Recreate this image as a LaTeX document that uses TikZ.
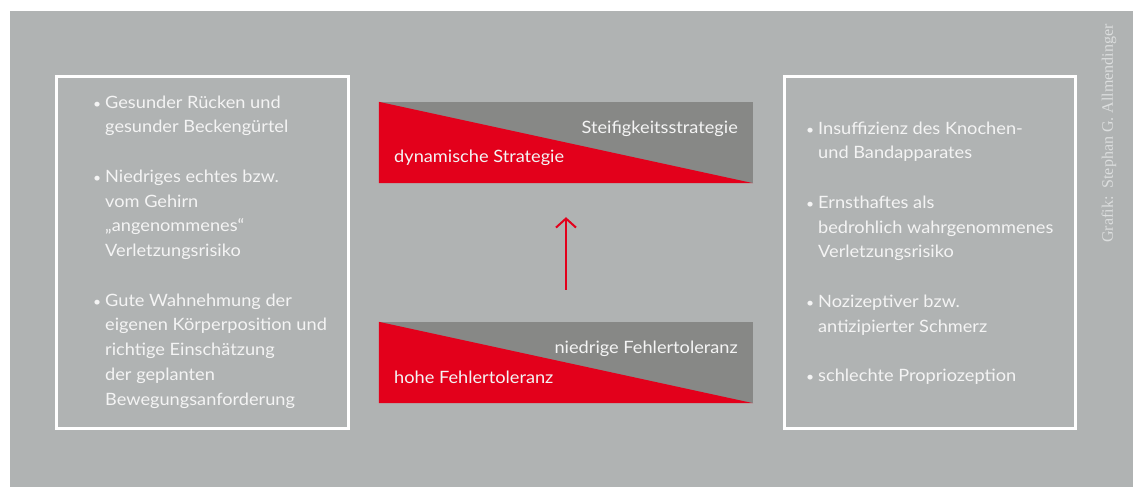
\documentclass[tikz,border=0pt]{standalone}
\usepackage{fontspec}
\setmainfont{Lato}[FakeStretch=1.07]
\newfontfamily\creditfont{Liberation Serif}
\usetikzlibrary{arrows.meta}

\definecolor{bggray}{HTML}{B0B3B3}
\definecolor{bandgray}{HTML}{878886}
\definecolor{signalred}{HTML}{E3001B}
\definecolor{softwhite}{HTML}{F4F4F4}
\definecolor{creditgray}{HTML}{DCDEDE}

% bullet with a fixed hanging width
\newcommand\itm{\makebox[12pt][l]{{\fontsize{13}{13}\selectfont\textbullet}}}
\newcommand\ind{\hspace*{12pt}}
\newcommand\firstline{\rule{0pt}{16pt}}

\tikzset{
  bodytext/.style={font=\fontsize{17}{24.75}\selectfont, text=softwhite},
  panel/.style={draw=white, line width=3pt, inner sep=0pt},
  listtext/.style={bodytext, align=left, anchor=north west, inner sep=0pt},
  band/.style={fill=bandgray, inner sep=0pt, minimum width=374pt, minimum height=81pt},
  bandlabel/.style={bodytext, inner sep=0pt},
  riselink/.style={draw=signalred, line width=2pt, -{Straight Barb[length=9pt,width=20pt,line width=2pt]}}
}

\begin{document}
\begin{tikzpicture}[x=1pt,y=-1pt]
  \useasboundingbox (0,0) rectangle (1133,487);
  \fill[white] (0,0) rectangle (1133,487);
  \fill[bggray] (10,11) rectangle (1133,487);

  % framed panels
  \node[panel, minimum width=292pt, minimum height=352pt] (leftpanel) at (202.5,252.5) {};
  \node[panel, minimum width=291pt, minimum height=352pt] (rightpanel) at (930,252.5) {};

  % left list
  \node[listtext] (leftlist) at (93,92) {%
    \firstline\itm Gesunder Rücken und\\
    \ind gesunder Beckengürtel\\
    \mbox{}\\
    \itm Niedriges echtes bzw.\\
    \ind vom Gehirn\\
    \ind „angenommenes“\\
    \ind Verletzungsrisiko\\
    \mbox{}\\
    \itm Gute Wahnehmung der\\
    \ind eigenen Körperposition und\\
    \ind richtige Einschätzung\\
    \ind der geplanten\\
    \ind Bewegungsanforderung};

  % right list
  \node[listtext] (rightlist) at (806,118) {%
    \firstline\itm Insuffizienz des Knochen-\\
    \ind und Bandapparates\\
    \mbox{}\\
    \itm Ernsthaftes als\\
    \ind bedrohlich wahrgenommenes\\
    \ind Verletzungsrisiko\\
    \mbox{}\\
    \itm Nozizeptiver bzw.\\
    \ind antizipierter Schmerz\\
    \mbox{}\\
    \itm schlechte Propriozeption};

  % split bands
  \node[band] (upperband) at (566,142.5) {};
  \fill[signalred] (upperband.north west) -- (upperband.south east) -- (upperband.south west) -- cycle;
  \node[bandlabel, anchor=base east] (stiff) at (738,133) {Steifigkeitsstrategie};
  \node[bandlabel, anchor=base west] (dynamic) at (394,162) {dynamische Strategie};

  \node[band] (lowerband) at (566,362.5) {};
  \fill[signalred] (lowerband.north west) -- (lowerband.south east) -- (lowerband.south west) -- cycle;
  \node[bandlabel, anchor=base east] (lowtol) at (738,353) {niedrige Fehlertoleranz};
  \node[bandlabel, anchor=base west] (hightol) at (394,383) {hohe Fehlertoleranz};

  % arrow between the bands
  \draw[riselink, shorten <=32pt, shorten >=34pt] (lowerband.north) -- (upperband.south);

  % credit line
  \node[rotate=90, font=\creditfont\fontsize{16}{16}\selectfont, text=creditgray, inner sep=0pt] (credit) at (1109,133.5) {Grafik:\ \ Stephan G. Allmendinger};
\end{tikzpicture}
\end{document}
